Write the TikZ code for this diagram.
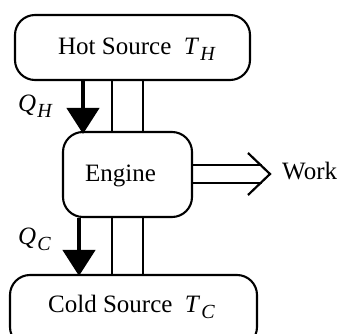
\documentclass[tikz,border=0pt]{standalone}
\usepackage{fontspec}
\setmainfont{Liberation Serif}
\usetikzlibrary{arrows.meta}
\newcommand{\symsub}[2]{\textit{#1}\kern1pt\raisebox{-6pt}{\fontsize{20}{20}\selectfont\textit{#2}}}
\begin{document}
\begin{tikzpicture}[x=1pt,y=-1pt,
  box/.style={draw,line width=2.1pt,rounded corners=20pt,inner sep=0pt},
  lbl/.style={anchor=base west,inner sep=0pt,font=\fontsize{25}{30}\selectfont},
  thin/.style={line width=2.2pt},
  heat/.style={line width=4.5pt,-{Triangle[length=26pt,width=32pt]}}]
\useasboundingbox (0,0) rectangle (341,334);
\clip (0,0) rectangle (341,334);
\node[box,minimum width=235pt,minimum height=65pt] (hot) at (132.5,47.5) {};
\node[box,minimum width=129pt,minimum height=85pt] (engine) at (127.5,174.5) {};
\node[box,minimum width=247pt,minimum height=72pt] (cold) at (133.5,311) {};
\node[lbl] (hott) at (58,55) {Hot Source\ \ \symsub{T}{H}};
\node[lbl] (engt) at (85,182) {Engine};
\node[lbl] (coldt) at (48,313) {Cold Source\ \ \symsub{T}{C}};
\node[lbl] (work) at (282,180) {Work};
\node[lbl] (qh) at (18,112) {\symsub{Q}{H}};
\node[lbl] (qc) at (18,245) {\symsub{Q}{C}};
\coordinate (xa) at (83,0);
\coordinate (xb) at (79,0);
\coordinate (x1) at (112,0);
\coordinate (x2) at (143,0);
\draw[heat] (hot.south -| xa) -- ([yshift=-3pt]engine.north -| xa);
\draw[heat] (engine.south -| xb) -- ([yshift=-2pt]cold.north -| xb);
\foreach \c in {x1,x2}{
  \draw[thin] (hot.south -| \c) -- (engine.north -| \c);
  \draw[thin] (engine.south -| \c) -- (cold.north -| \c);
}
\coordinate (tip) at (270,174);
\draw[thin] (engine.east |- 0,165) -- (262,165);
\draw[thin] (engine.east |- 0,183) -- (262,183);
\draw[thin,line join=miter] (248,153) -- (tip) -- (248,195);
\end{tikzpicture}
\end{document}
